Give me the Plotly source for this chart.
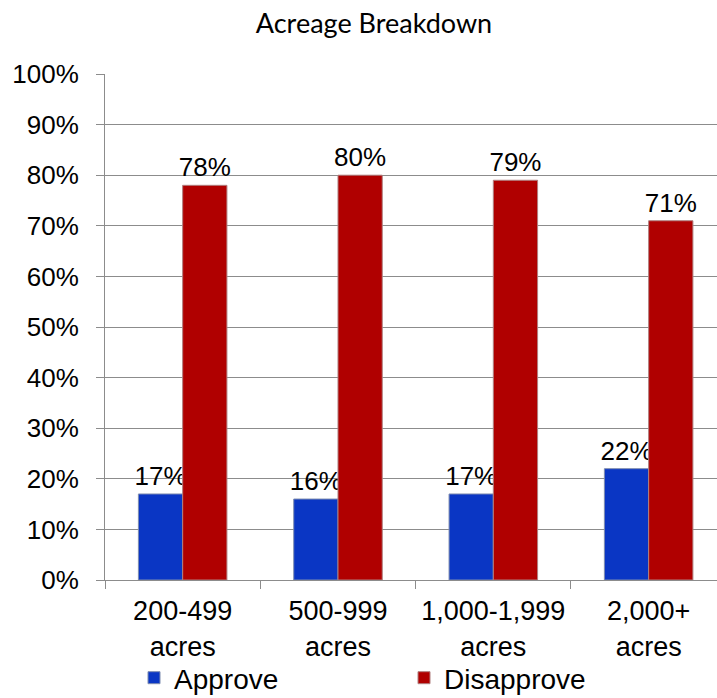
import plotly.graph_objects as go

categories = ['200-499<br>acres', '500-999<br>acres', '1,000-1,999<br>acres', '2,000+<br>acres']
approve = [0.17, 0.16, 0.17, 0.22]
disapprove = [0.78, 0.80, 0.79, 0.71]

font_main = 'Liberation Sans, Arial, sans-serif'

fig = go.Figure()
fig.add_trace(go.Bar(
    x=categories, y=approve, name='Approve',
    marker=dict(color='#0A36C4', line=dict(color='#7f8db0', width=1)),
    texttemplate='%{y:.0%}', textposition='outside', constraintext='none',
    textfont=dict(size=26, color='black', family=font_main),
    cliponaxis=False,
))
fig.add_trace(go.Bar(
    x=categories, y=disapprove, name='Disapprove',
    marker=dict(color='#B00000', line=dict(color='#b08080', width=1)),
    texttemplate='%{y:.0%}', textposition='outside', constraintext='none',
    textfont=dict(size=26, color='black', family=font_main),
    cliponaxis=False,
))

fig.update_layout(
    width=717, height=698,
    barmode='group', bargap=0.43, bargroupgap=0,
    plot_bgcolor='white', paper_bgcolor='white',
    margin=dict(l=105, r=0, t=74, b=118, autoexpand=False),
    font=dict(family=font_main, size=26, color='black'),
    title=dict(text='Acreage Breakdown', x=374 / 717, xanchor='center',
               y=1 - 24 / 698, yanchor='middle',
               font=dict(family='Lato, Open Sans, sans-serif', size=27, color='black')),
    legend=dict(orientation='h', xref='container', yref='paper',
                x=134 / 717, xanchor='left', y=-98 / 506, yanchor='middle',
                entrywidth=225, entrywidthmode='pixels',
                bgcolor='rgba(0,0,0,0)',
                font=dict(size=28, color='black'), itemwidth=30,
                tracegroupgap=0),
    showlegend=True,
)
fig.update_yaxes(
    range=[0, 1], dtick=0.1, tickformat='.0%', automargin=False,
    showgrid=True, gridcolor='#8c8c8c', gridwidth=1,
    showline=True, linecolor='#8c8c8c', linewidth=1,
    ticks='outside', ticklen=8, tickcolor='#8c8c8c',
    ticklabelstandoff=12,
    tickfont=dict(size=26, color='black'), zeroline=False,
)
fig.update_xaxes(
    range=[-0.5, 3.44], automargin=False,
    showline=True, linecolor='#8c8c8c', linewidth=1,
    ticks='outside', tickson='boundaries', ticklen=8, tickcolor='#8c8c8c',
    ticklabelstandoff=7,
    tickfont=dict(size=27, color='black'),
)

fig.write_html('out.html', config={'displayModeBar': False},
               post_script="document.body.style.margin='0';")
